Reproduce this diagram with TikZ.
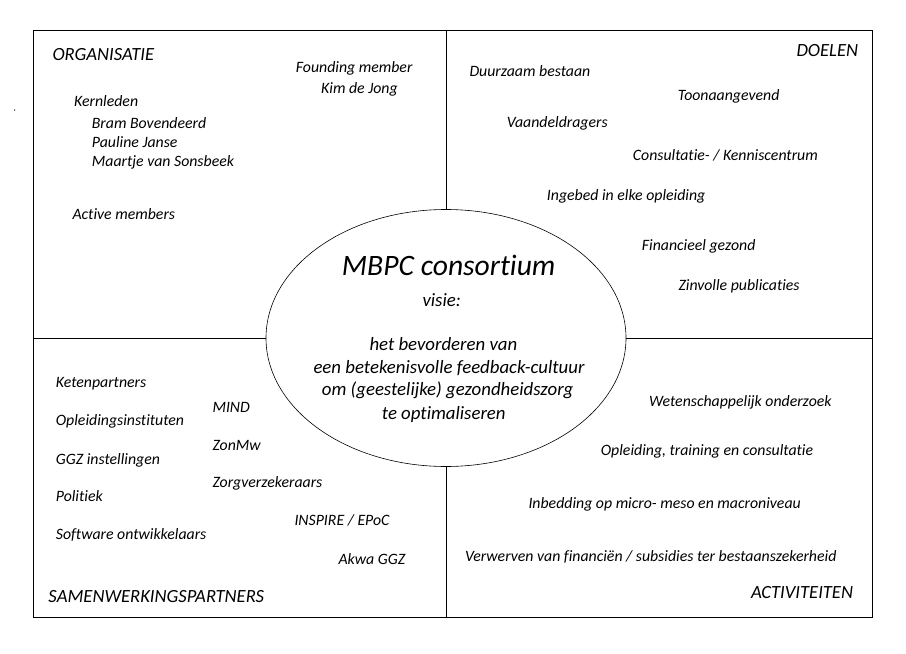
\documentclass[tikz,border=0pt]{standalone}
\usepackage{fontspec}
\setmainfont{Carlito}[Ligatures={NoCommon,NoRare,NoContextual}]
\usetikzlibrary{shapes.geometric}
\begin{document}
\begin{tikzpicture}[x=1pt,y=-1pt,
  txt/.style={anchor=base west, inner sep=0pt, font=\fontsize{15.8}{18}\selectfont\itshape},
  head/.style={anchor=base west, inner sep=0pt, font=\fontsize{18.6}{21}\selectfont\itshape},
  title/.style={anchor=base west, inner sep=0pt, font=\fontsize{29.6}{33}\selectfont\itshape},
  mid/.style={anchor=base west, inner sep=0pt, font=\fontsize{18.8}{21}\selectfont\itshape},
  frame/.style={line width=1pt, draw=black},
  divider/.style={line width=0.9pt, draw=black},
  oval/.style={draw=black, line width=0.6pt, ellipse, minimum width=360pt, minimum height=257pt, inner sep=0pt}]
\useasboundingbox (0,0) rectangle (906,654);
% frame
\coordinate (tl) at (33.3,30.3);
\coordinate (br) at (872.3,617);
\draw[frame] (tl) rectangle (br);
\fill (14.7,110) circle (0.7);
% central ellipse
\node[oval] (core) at (446,338) {};
\coordinate (topmid) at (446,30.3);
\coordinate (botmid) at (446,617);
\coordinate (leftmid) at (33.3,338);
\coordinate (rightmid) at (872.3,338);
\draw[divider] (topmid) -- (core.north);
\draw[divider] (core.south) -- (botmid);
\draw[divider] (leftmid) -- (core.west);
\draw[divider] (core.east) -- (rightmid);
% center text
\node[title] (mbpc) at (341.7,275.7) {MBPC consortium};
\node[mid] (visie) at (422.3,306) {visie:};
\node[mid] (v1) at (369.3,350.7) {het bevorderen van};
\node[mid] (v2) at (313.3,373.3) {een betekenisvolle feedback-cultuur};
\node[mid] (v3) at (321.7,395.7) {om (geestelijke) gezondheidszorg};
\node[mid] (v4) at (381.7,419) {te optimaliseren};
% organisatie
\node[head] (org) at (52.3,60) {ORGANISATIE};
\node[txt] (found) at (295.7,72.7) {Founding member};
\node[txt] (kim) at (321,93.3) {Kim de Jong};
\node[txt] (kern) at (74,106) {Kernleden};
\node[txt] (bram) at (91.7,128.3) {Bram Bovendeerd};
\node[txt] (paul) at (91.7,147.3) {Pauline Janse};
\node[txt] (maar) at (91.7,166.7) {Maartje van Sonsbeek};
\node[txt] (act) at (72.3,219) {Active members};
% doelen
\node[head, anchor=base east] (doel) at (858.3,56.7) {DOELEN};
\node[txt] (d1) at (469.3,76) {Duurzaam bestaan};
\node[txt] (d2) at (677.7,100) {Toonaangevend};
\node[txt] (d3) at (506.7,127.7) {Vaandeldragers};
\node[txt] (d4) at (632.7,160) {Consultatie- / Kenniscentrum};
\node[txt] (d5) at (546.7,200) {Ingebed in elke opleiding};
\node[txt] (d6) at (641.7,250) {Financieel gezond};
\node[txt] (d7) at (678.3,290) {Zinvolle publicaties};
% samenwerkingspartners
\node[txt] (s1) at (55.7,387.7) {Ketenpartners};
\node[txt] (s2) at (55.7,425.7) {Opleidingsinstituten};
\node[txt] (s3) at (55.7,464) {GGZ instellingen};
\node[txt] (s4) at (55.7,501.7) {Politiek};
\node[txt] (s5) at (55.7,539.3) {Software ontwikkelaars};
\node[txt] (s6) at (212.3,412.3) {MIND};
\node[txt] (s7) at (212.3,450) {ZonMw};
\node[txt] (s8) at (212.3,487.7) {Zorgverzekeraars};
\node[txt] (s9) at (294.3,525.7) {INSPIRE / EPoC};
\node[txt] (s10) at (338.3,564) {Akwa GGZ};
\node[head] (sam) at (48.3,602.7) {SAMENWERKINGSPARTNERS};
% activiteiten
\node[txt] (a1) at (649,406.7) {Wetenschappelijk onderzoek};
\node[txt] (a2) at (600.7,455) {Opleiding, training en consultatie};
\node[txt] (a3) at (528.3,508.3) {Inbedding op micro- meso en macroniveau};
\node[txt] (a4) at (465,561.7) {Verwerven van financiën / subsidies ter bestaanszekerheid};
\node[head, anchor=base east] (activ) at (853.3,598.3) {ACTIVITEITEN};
\end{tikzpicture}
\end{document}
